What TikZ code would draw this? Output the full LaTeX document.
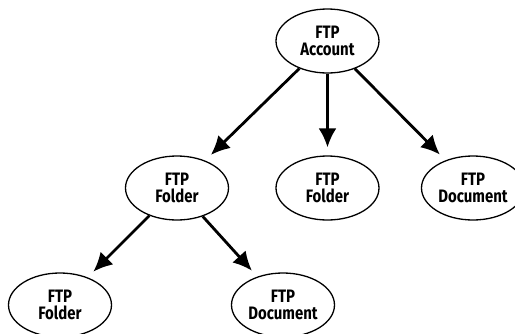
\documentclass[tikz,border=0pt]{standalone}
\usepackage{fontspec}
\setmainfont{Fira Sans}[FakeStretch=0.83]
\usepackage{tikz}
\usetikzlibrary{shapes.geometric,arrows.meta}

\begin{document}
\begin{tikzpicture}[x=1pt,y=-1pt,shorten >=8pt,
    item/.style={ellipse,draw,line width=1.3pt,minimum width=103pt,minimum height=64pt,
      inner sep=0pt,align=center,font=\fontsize{18}{17}\selectfont\bfseries},
    link/.style={-{Latex[length=19pt,width=18pt]},line width=2.8pt}]
    \useasboundingbox (0,0) rectangle (515,333);
    \node[item] (acc) at (327.5,41) {FTP\\Account};
    \node[item] (fol_1) at (177,188) {FTP\\Folder};
    \node[item] (fol_2) at (327.5,188) {FTP\\Folder};
    \node[item] (doc_1) at (473,188) {FTP\\Document};
    \node[item] (fol_3) at (60,305) {FTP\\Folder};
    \node[item] (doc_2) at (283,305) {FTP\\Document};
    \path[link]
    (acc) edge (fol_1)
    (acc) edge (fol_2)
    (acc) edge (doc_1)
    (fol_1) edge (fol_3)
    (fol_1) edge (doc_2);
\end{tikzpicture}
\end{document}
